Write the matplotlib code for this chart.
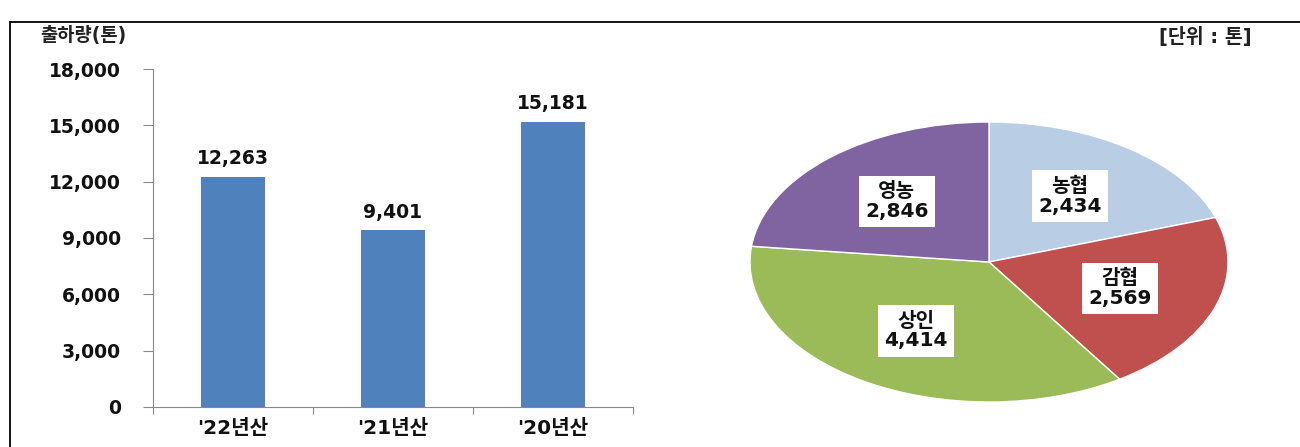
import matplotlib
matplotlib.use("Agg")
import matplotlib.pyplot as plt
import matplotlib.patches as patches
from matplotlib.ticker import FuncFormatter

# DejaVu for the (wide) digits, Noto CJK for the Hangul
plt.rcParams['font.family'] = ['DejaVu Sans', 'Noto Sans CJK KR']

# bar data
years = ["'22년산", "'21년산", "'20년산"]
shipments = [12263, 9401, 15181]

# pie data ('22년산 breakdown)
buyers = ["농협", "감협", "상인", "영농"]
buyer_amounts = [2434, 2569, 4414, 2846]
buyer_colors = ["#B9CDE5", "#C0504D", "#9BBB59", "#8064A2"]

W, H = 1300, 447
fig = plt.figure(figsize=(13, 4.47), dpi=100)

# outer frame (runs off the right / bottom edge)
fig.patches.append(patches.Rectangle((10 / W, -0.1), 1.2, (447 - 22) / H + 0.1,
                                     transform=fig.transFigure, fill=False,
                                     edgecolor="black", linewidth=1.3))

# bar chart
ax = fig.add_axes([153 / W, (H - 407) / H, 480 / W, (407 - 69) / H])
x = range(len(years))
ax.bar(x, shipments, width=0.4, color="#4F81BD")
for xi, v in zip(x, shipments):
    ax.text(xi, v + 450, f"{v:,}", ha="center", va="bottom",
            fontsize=13.5, fontweight="bold", color="#111111")
ax.set_xlim(-0.5, 2.5)
ax.set_ylim(0, 18000)
ax.set_yticks(range(0, 18001, 3000))
ax.yaxis.set_major_formatter(FuncFormatter(lambda v, p: f"{int(v):,}"))
ax.set_xticks([-0.5, 0.5, 1.5, 2.5])
ax.set_xticklabels([])
ax.set_xticks(list(x), minor=True)
ax.set_xticklabels(years, minor=True)
ax.tick_params(axis="x", which="minor", length=0, pad=9, labelsize=14.5)
ax.tick_params(axis="x", which="major", length=5, color="#888888")
ax.tick_params(axis="y", length=7, pad=16, labelsize=13.5, color="#888888")
for lab in ax.get_yticklabels() + ax.get_xticklabels(minor=True):
    lab.set_fontweight("bold")
    lab.set_color("#111111")
for s in ["top", "right"]:
    ax.spines[s].set_visible(False)
for s in ["left", "bottom"]:
    ax.spines[s].set_color("#888888")

fig.text(40 / W, (H - 35) / H, "출하량(톤)", fontsize=13.5, fontweight="bold",
         va="center", color="#222222")
fig.text(1252 / W, (H - 37) / H, "[단위 : 톤]", fontsize=14, fontweight="bold",
         va="center", ha="right", color="#222222")

# pie chart (flattened ellipse)
pax = fig.add_axes([750 / W, (H - 402) / H, 478 / W, (402 - 122) / H])
labels = [f"{b}\n{v:,}" for b, v in zip(buyers, buyer_amounts)]
wedges, texts = pax.pie(buyer_amounts, colors=buyer_colors, startangle=90,
                        counterclock=False, labels=labels, labeldistance=0.58,
                        wedgeprops=dict(edgecolor="white", linewidth=1),
                        textprops=dict(fontsize=14.5, fontweight="bold",
                                       ha="center", va="center",
                                       color="#111111", linespacing=1.05))
for t in texts:
    t.set_ha("center")
    t.set_bbox(dict(facecolor="white", edgecolor="none", pad=4.5))
pax.set_aspect("auto")
pax.set_xlim(-1, 1)
pax.set_ylim(-1, 1)

plt.savefig("out.png", dpi=100)
